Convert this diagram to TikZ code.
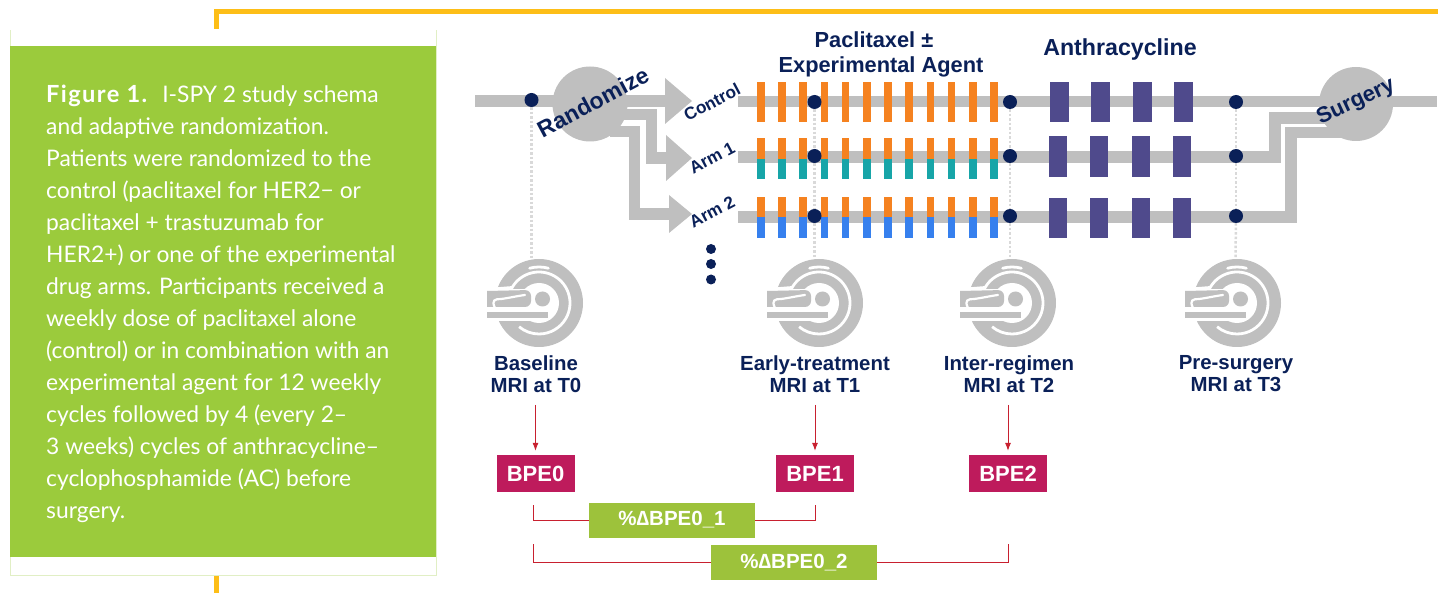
\documentclass[tikz,border=0pt]{standalone}
\usepackage{fontspec}
\setmainfont{Liberation Sans}
\newfontfamily\capfont{Lato}
\newfontfamily\capbold[LetterSpace=6]{Lato Bold}
\usepackage{tikz}
\usetikzlibrary{arrows.meta, calc}

\definecolor{navy}{HTML}{0A2058}
\definecolor{track}{HTML}{BFBFBF}
\definecolor{panel}{HTML}{9BCB3C}
\definecolor{boxgreen}{HTML}{9DC23B}
\definecolor{bpered}{HTML}{BE1B5C}
\definecolor{linered}{HTML}{C8202F}
\definecolor{frame}{HTML}{FDBE17}
\definecolor{paclit}{HTML}{F58220}
\definecolor{armteal}{HTML}{17A5A8}
\definecolor{armblue}{HTML}{3680EE}
\definecolor{anthra}{HTML}{4F4A8C}

\tikzset{
    trackline/.style={draw=track, line width=11.5pt},
    trackhead/.style={fill=track},
    dotnode/.style={circle, fill=navy, inner sep=0pt, minimum size=14pt},
    moredot/.style={circle, fill=navy, inner sep=0pt, minimum size=10pt},
    fineline/.style={draw=track!60, line width=2.5pt, dotted},
    mrilabel/.style={text=navy, font=\fontsize{20.4}{22}\selectfont\bfseries, align=center},
    toplabel/.style={text=navy, font=\fontsize{21.8}{25}\selectfont\bfseries, align=center},
    armlabel/.style={text=navy, font=\fontsize{17.2}{18}\selectfont\bfseries, rotate=28},
    circlabel/.style={text=navy, font=\fontsize{23}{24}\selectfont\bfseries},
    bpebox/.style={fill=bpered, text=white, font=\fontsize{22}{24}\selectfont\bfseries,
        minimum width=78pt, minimum height=37pt, inner sep=0pt},
    deltabox/.style={fill=boxgreen, text=white, font=\fontsize{20.5}{24}\selectfont\bfseries,
        minimum width=166pt, minimum height=35pt, inner sep=0pt},
    redline/.style={draw=linered, line width=0.8pt},
    redarrow/.style={redline, -{Latex[length=8pt, width=6pt]}}
}

\newcommand{\scanner}[1]{
    \begin{scope}[shift={(#1,303)}]
        \fill[track] (0,0) circle (44pt);
        \draw[white, line width=2.8pt] (-46,-14) -- (150:31pt) arc[start angle=150, end angle=-130, radius=31pt];
        \draw[white, line width=2.8pt, line cap=round] (105:36pt) arc[start angle=105, end angle=75, radius=36pt];
        \fill[white] (0,0) circle (20pt);
        \fill[white] (-53,-14) rectangle (0,18);
        \fill[track] (-52,-12) [rounded corners=6pt] -- (-8,-13) -- (-8,4) [sharp corners] -- (-52,4) -- cycle;
        \draw[white, line width=2.2pt, line cap=round] (-44,5) .. controls (-48,-3) and (-44,-4) .. (-38,-4) .. controls (-30,-5) and (-22,-7) .. (-14,-8);
        \fill[track] (-52,9) rectangle (9,15);
        \fill[track] (3.5,-4) circle (7.5pt);
    \end{scope}
}

\begin{document}
\begin{tikzpicture}[x=1pt, y=-1pt]
    \useasboundingbox (0,0) rectangle (1438,593);

    \draw[frame, line width=5pt] (216.5,29) -- (216.5,11.5) -- (1438,11.5);
    \draw[frame, line width=5pt] (216.5,575) -- (216.5,593);
    \draw[panel!30, line width=0.7pt] (10,30) -- (10,575) -- (436,575) -- (436,30);
    \fill[panel] (10,46) rectangle (436,557);
    \node[anchor=north west, text=white, inner sep=0pt, align=left,
        font=\capfont\fontsize{22.8}{32}\selectfont] (caption) at (46,85) {%
        {\capbold\fontsize{23.6}{32}\selectfont Figure 1.}\hspace{15pt}I-SPY 2 study schema\\
        and adaptive randomization.\\
        Patients were randomized to the\\
        control (paclitaxel for HER2− or\\
        paclitaxel + trastuzumab for\\
        HER2+) or one of the experimental\\
        drug arms. Participants received a\\
        weekly dose of paclitaxel alone\\
        (control) or in combination with an\\
        experimental agent for 12 weekly\\
        cycles followed by 4 (every 2–\\
        3 weeks) cycles of anthracycline–\\
        cyclophosphamide (AC) before\\
        surgery.};

    \draw[trackline] (475,101) -- (668,101);
    \draw[trackline] (620,114.5) -- (651.5,114.5) -- (651.5,158) -- (668,158);
    \draw[trackline] (610,131.5) -- (634.5,131.5) -- (634.5,214) -- (671,214);
    \fill[trackhead] (665,78) -- (692,101) -- (665,124) -- cycle;
    \fill[trackhead] (666,135) -- (692,158) -- (666,181) -- cycle;
    \fill[trackhead] (669,195) -- (692,214) -- (669,233) -- cycle;
    \fill[track] (590,104) circle (37.5);

    \draw[trackline] (738,101.5) -- (1437,101.5);
    \draw[trackline] (738,157) -- (1275,157) -- (1275,118) -- (1330,118);
    \draw[trackline] (738,217) -- (1291,217) -- (1291,132.5) -- (1345,132.5);
    \fill[track] (1356,104) circle (37);

    \foreach \i in {0,...,11}{
        \fill[paclit] ({757+21.2*\i},82) rectangle ++(7.5,40);
        \fill[paclit] ({757+21.2*\i},138) rectangle ++(7.5,21);
        \fill[armteal] ({757+21.2*\i},159) rectangle ++(7.5,20);
        \fill[paclit] ({757+21.2*\i},197) rectangle ++(7.5,20);
        \fill[armblue] ({757+21.2*\i},217) rectangle ++(7.5,21);
    }
    \foreach \bx in {1050,1091,1133,1174}{
        \fill[anthra] (\bx,82) rectangle ++(18.5,40);
        \fill[anthra] ({\bx-1.5},136) rectangle ++(18.5,41);
        \fill[anthra] ({\bx-1.5},198) rectangle ++(18.5,40);
    }

    \scanner{539}
    \scanner{819}
    \scanner{1012}
    \scanner{1237}

    \coordinate (scanA) at (531.5,259);
    \coordinate (scanB) at (814.5,259);
    \coordinate (scanC) at (1010,259);
    \coordinate (scanD) at (1235.5,259);

    \node[dotnode] (base) at (531.5,100) {};
    \node[dotnode] (earlyc) at (814.5,102) {};
    \node[dotnode] (earlya) at (814.5,156) {};
    \node[dotnode] (earlyb) at (814.5,216) {};
    \node[dotnode] (interc) at (1010,102) {};
    \node[dotnode] (intera) at (1010,156) {};
    \node[dotnode] (interb) at (1010,216) {};
    \node[dotnode] (surgc) at (1236,102) {};
    \node[dotnode] (surga) at (1236,156) {};
    \node[dotnode] (surgb) at (1236,216) {};

    \draw[fineline] (base) -- (scanA);
    \draw[fineline] (earlyc) -- (earlya);
    \draw[fineline] (earlya) -- (earlyb);
    \draw[fineline] (earlyb) -- (scanB);
    \draw[fineline] (interc) -- (intera);
    \draw[fineline] (intera) -- (interb);
    \draw[fineline] (interb) -- (scanC);
    \draw[fineline] (surgc) -- (surga);
    \draw[fineline] (surga) -- (surgb);
    \draw[fineline] (surgb) -- (scanD);

    \node[moredot] (moreA) at (711,249) {};
    \node[moredot] (moreB) at (711,264) {};
    \node[moredot] (moreC) at (711,279.5) {};

    \node[circlabel, rotate=28] (rand) at (593,102) {Randomize};
    \node[circlabel, font=\fontsize{22}{24}\selectfont\bfseries, rotate=25] (surg) at (1356,102) {Surgery};
    \node[armlabel] (ctrl) at (712,102) {Control};
    \node[armlabel] (arma) at (712,158) {Arm 1};
    \node[armlabel] (armb) at (712,212) {Arm 2};

    \node[toplabel] (paclitaxel) at (881,54) {Paclitaxel ±\hspace*{14pt}\\Experimental Agent};
    \node[toplabel, font=\fontsize{23.2}{25}\selectfont\bfseries] (anthracycline) at (1120,50) {Anthracycline};

    \node[mrilabel] (labA) at (536,374) {Baseline\\MRI at T0};
    \node[mrilabel] (labB) at (815,374) {Early-treatment\\MRI at T1};
    \node[mrilabel] (labC) at (1009,374) {Inter-regimen\\MRI at T2};
    \node[mrilabel] (labD) at (1236,374) {Pre-surgery\\MRI at T3};

    \node[bpebox] (bpeA) at (535.5,473.5) {BPE0};
    \node[bpebox] (bpeB) at (815,473.5) {BPE1};
    \node[bpebox] (bpeC) at (1008,473.5) {BPE2};

    \coordinate (arrA) at (535.5,405);
    \coordinate (arrB) at (815,405);
    \coordinate (arrC) at (1008,405);
    \draw[redarrow, shorten >=4pt] (arrA) -- (bpeA.north);
    \draw[redarrow, shorten >=4pt] (arrB) -- (bpeB.north);
    \draw[redarrow, shorten >=4pt] (arrC) -- (bpeC.north);

    \node[deltabox] (deltaA) at (672,520) {\%∆BPE0\_1};
    \node[deltabox] (deltaB) at (794,562.5) {\%∆BPE0\_2};

    \coordinate (brakA) at (533,505);
    \coordinate (brakB) at (815,505);
    \coordinate (brakC) at (533,544);
    \coordinate (brakD) at (1008,544);
    \draw[redline] (deltaA.west) -| (brakA);
    \draw[redline] (deltaA.east) -| (brakB);
    \draw[redline] (deltaB.west) -| (brakC);
    \draw[redline] (deltaB.east) -| (brakD);
\end{tikzpicture}
\end{document}
